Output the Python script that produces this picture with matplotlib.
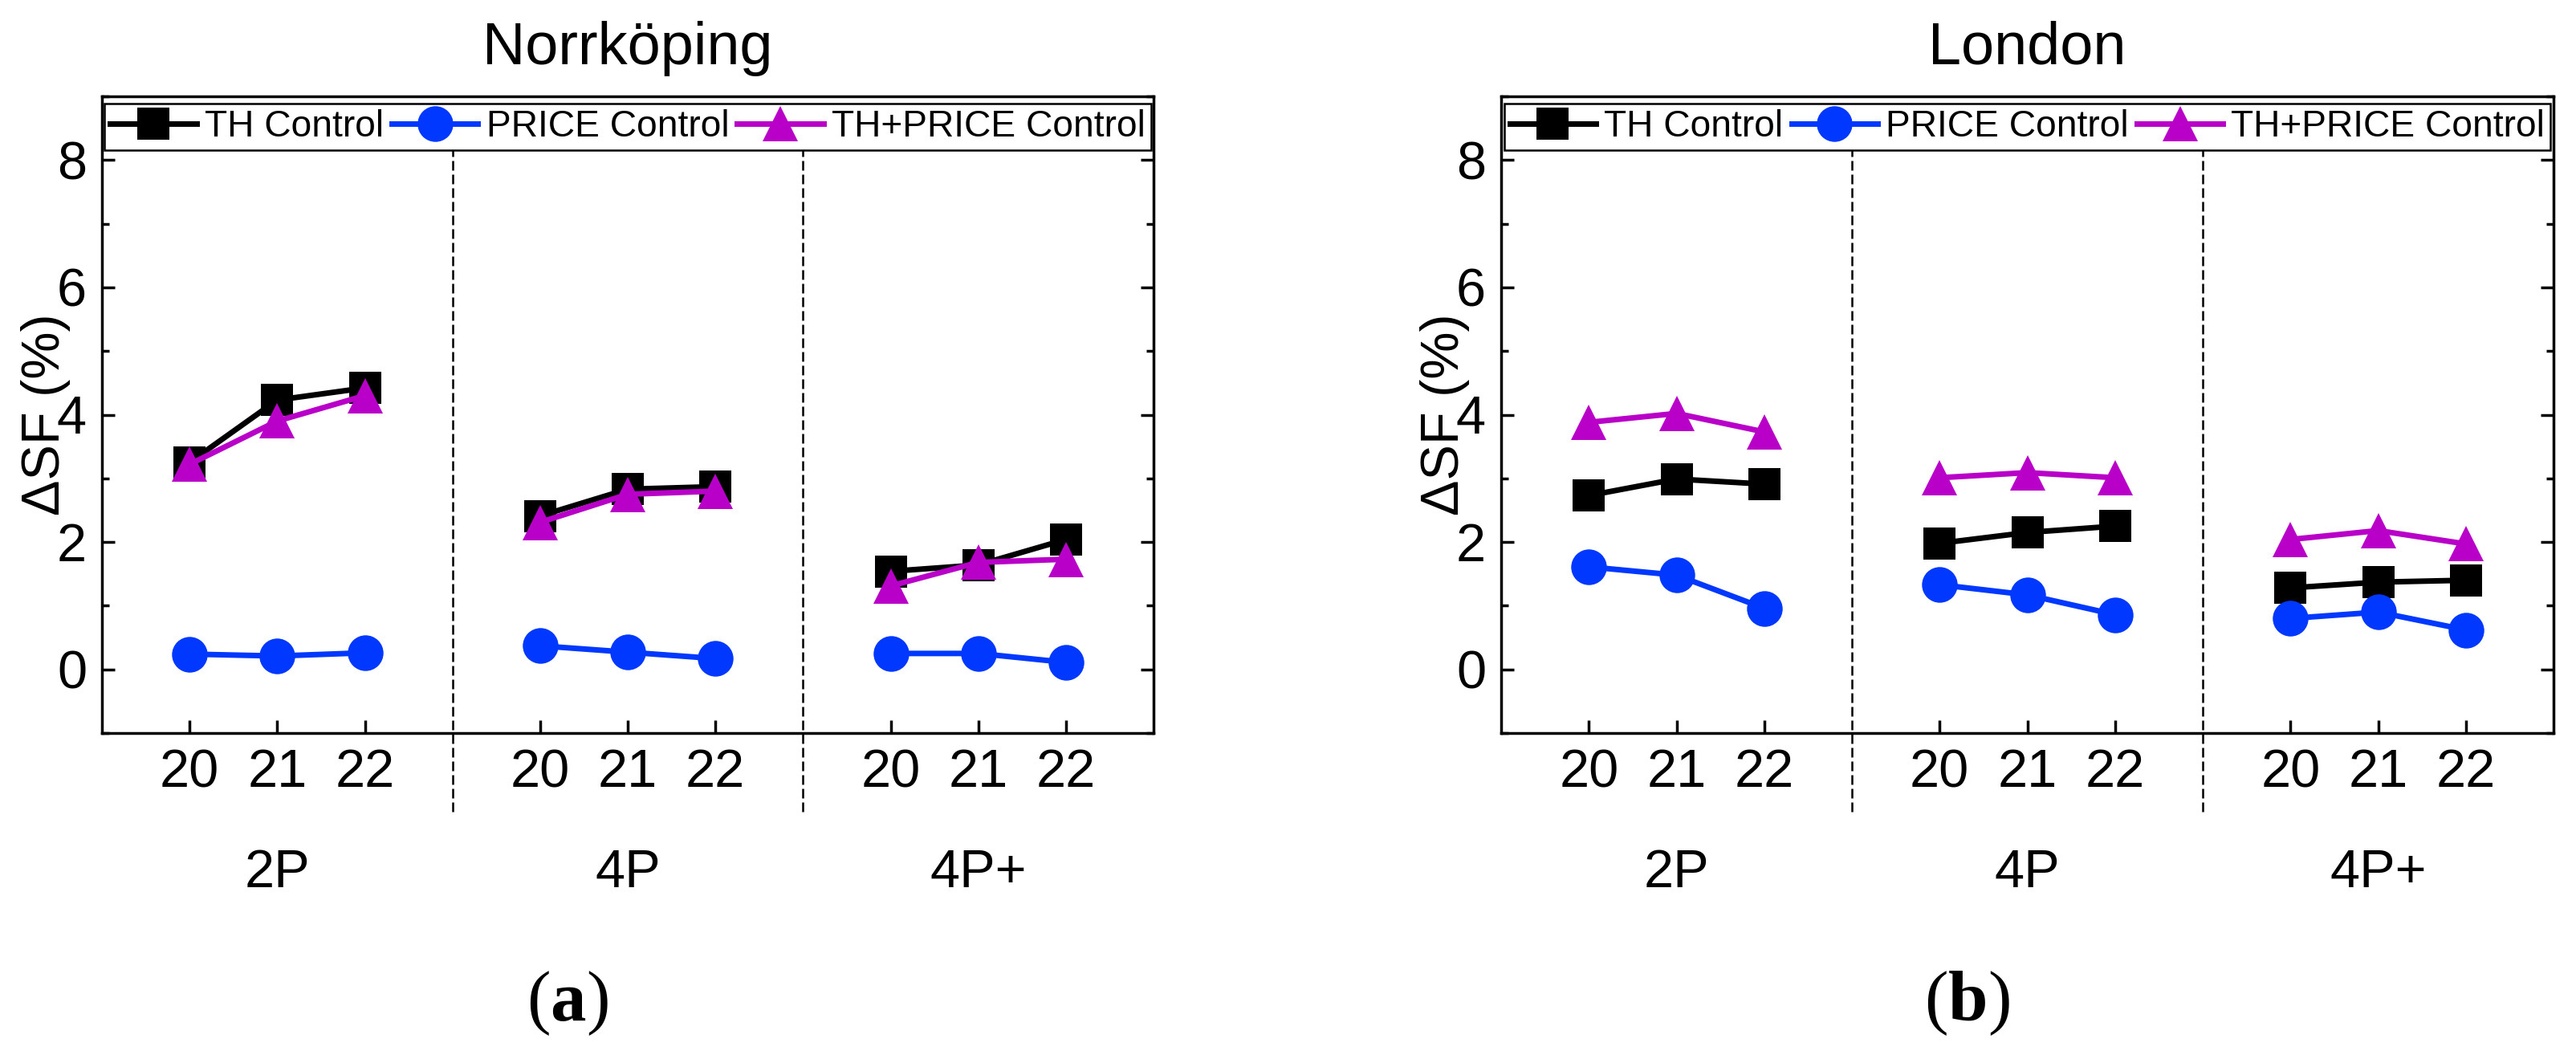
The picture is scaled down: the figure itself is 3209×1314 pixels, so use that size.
import matplotlib
matplotlib.use('Agg')
import matplotlib.pyplot as plt
from matplotlib.ticker import MultipleLocator

plt.rcParams['font.family'] = ['Liberation Sans', 'DejaVu Sans']
plt.rcParams['mathtext.fontset'] = 'custom'
plt.rcParams['mathtext.rm'] = 'Liberation Serif'
plt.rcParams['mathtext.bf'] = 'Liberation Serif:bold'

years = ['20', '21', '22']
groups = ['2P', '4P', '4P+']
series_names = ['TH Control', 'PRICE Control', 'TH+PRICE Control']

# Norrkoping values, 3 years per group (2P, 4P, 4P+)
nk_th = [3.25, 4.23, 4.42, 2.41, 2.83, 2.87, 1.54, 1.64, 2.04]
nk_price = [0.24, 0.21, 0.26, 0.37, 0.27, 0.17, 0.25, 0.25, 0.11]
nk_both = [3.22, 3.90, 4.30, 2.31, 2.75, 2.80, 1.31, 1.68, 1.73]

# London values
ld_th = [2.73, 2.99, 2.91, 1.98, 2.15, 2.25, 1.28, 1.37, 1.40]
ld_price = [1.61, 1.48, 0.96, 1.33, 1.17, 0.86, 0.80, 0.90, 0.62]
ld_both = [3.88, 4.02, 3.73, 3.01, 3.09, 3.01, 2.04, 2.18, 1.97]

styles = [
    dict(color='black', marker='s', ms=14.5),
    dict(color='#0038ff', marker='o', ms=16),
    dict(color='#b800c8', marker='^', ms=16),
]

W, H, DPI = 3209, 1314, 200
fig = plt.figure(figsize=(W / DPI, H / DPI), dpi=DPI)


def draw_panel(ax, title, data):
    ny = len(years)
    xs_all = []
    for s, (vals, st) in enumerate(zip(data, styles)):
        for g in range(len(groups)):
            xs = [g * (ny + 1) + i + 1 for i in range(ny)]
            ys = vals[g * ny:(g + 1) * ny]
            ax.plot(xs, ys, lw=2.5, mew=0, label=series_names[s] if g == 0 else None, **st)
            if s == 0:
                xs_all += xs
    # dashed separators between groups
    for g in range(1, len(groups)):
        xsep = g * (ny + 1)
        ax.plot([xsep, xsep], [-2.23, 8.5], color='black', lw=0.9,
                ls=(0, (4.8, 2.0)), clip_on=False, zorder=1)
    # group labels under the year ticks
    for g, name in enumerate(groups):
        ax.text(g * (ny + 1) + 2, -0.242, name, transform=ax.get_xaxis_transform(),
                ha='center', va='baseline', fontsize=24)

    ax.set_xlim(0, 12)
    ax.set_ylim(-1, 9)
    ax.set_xticks(xs_all)
    ax.set_xticklabels(years * len(groups))
    ax.yaxis.set_major_locator(MultipleLocator(2))
    ax.yaxis.set_minor_locator(MultipleLocator(1))
    ax.set_yticks([0, 2, 4, 6, 8])
    ax.tick_params(axis='y', which='major', direction='in', left=True, right=True,
                   length=5.8, width=1.25, labelsize=24, pad=6.8)
    ax.tick_params(axis='y', which='minor', direction='in', left=True, right=True,
                   length=3.2, width=1.25)
    ax.tick_params(axis='x', which='major', direction='in', bottom=True, top=False,
                   length=5.8, width=1.25, labelsize=24, pad=7.0)
    for sp in ax.spines.values():
        sp.set_linewidth(1.25)

    ax.set_ylabel('ΔSF (%)', fontsize=24)
    ax.yaxis.set_label_coords(-0.030, 0.5)
    ax.set_title(title, fontsize=26.6, pad=14.4)

    leg = ax.legend(loc='upper center', bbox_to_anchor=(0.5, 1.0), ncol=3,
                    fontsize=16.6, handlelength=2.33, handletextpad=0.22,
                    columnspacing=0.22, borderpad=0.15, borderaxespad=0.2,
                    fancybox=False, framealpha=1, edgecolor='black')
    leg.get_frame().set_linewidth(0.9)


ax1 = fig.add_axes([127 / W, 1 - 913 / H, 1310 / W, 793 / H])
ax2 = fig.add_axes([1870 / W, 1 - 913 / H, 1311 / W, 793 / H])

draw_panel(ax1, 'Norrköping', [nk_th, nk_price, nk_both])
draw_panel(ax2, 'London', [ld_th, ld_price, ld_both])

fig.text(707 / W, 1 - 1271 / H, r'($\mathbf{a}$)', fontsize=32,
         family='Liberation Serif', ha='center', va='baseline')
fig.text(2450 / W, 1 - 1271 / H, r'($\mathbf{b}$)', fontsize=32,
         family='Liberation Serif', ha='center', va='baseline')

fig.savefig('out.png', dpi=DPI)
